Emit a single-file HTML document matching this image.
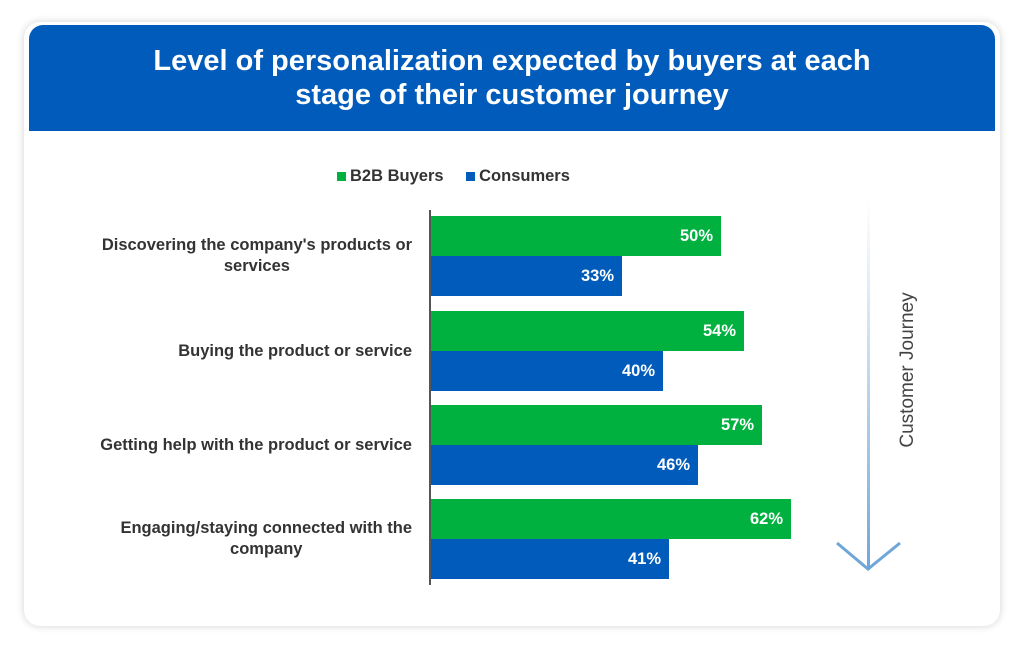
<!DOCTYPE html>
<html><head><meta charset="utf-8"><style>
body{margin:0;width:1024px;height:646px;background:#fff;font-family:"Liberation Sans",sans-serif;position:relative;overflow:hidden}
.card{position:absolute;left:24px;top:22px;width:976px;height:604px;background:#fff;border-radius:16px;box-shadow:0 0 8px rgba(0,0,0,0.18)}
.hdr{position:absolute;left:29px;top:25px;width:966px;height:106px;background:#005bbb;border-radius:14px 14px 0 0;color:#fff;text-align:center;font-weight:bold;font-size:29px;line-height:34px;display:flex;align-items:center;justify-content:center}
.lbl{position:absolute;right:612px;text-align:center;font-weight:bold;font-size:16.5px;color:#333;line-height:21px}
.bar{position:absolute;left:431px;height:40px;color:#fff;font-weight:bold;font-size:16.5px;line-height:40px;text-align:right;box-sizing:border-box;padding-right:8px}
.g{background:#00b140}.b{background:#005bbb}
</style></head><body>
<div class="card"></div>
<div class="hdr">Level of personalization expected by buyers at each<br>stage of their customer journey</div>
<div style="position:absolute;top:166px;left:337px;font-size:16.5px;font-weight:bold;color:#333;line-height:20px">
<span style="display:inline-block;width:9px;height:9px;background:#00b140;margin-right:4px"></span>B2B Buyers
<span style="display:inline-block;width:9px;height:9px;background:#005bbb;margin:0 4px 0 18px"></span>Consumers</div>
<div style="position:absolute;left:429px;top:210px;width:2px;height:375px;background:#555"></div>
<div class="lbl" style="top:235px">Discovering the company's products or<br>services</div>
<div class="lbl" style="top:341px">Buying the product or service</div>
<div class="lbl" style="top:435px">Getting help with the product or service</div>
<div class="lbl" style="top:518px">Engaging/staying connected with the<br>company</div>
<div class="bar g" style="top:216px;width:290px">50%</div>
<div class="bar b" style="top:256px;width:191px">33%</div>
<div class="bar g" style="top:311px;width:313px">54%</div>
<div class="bar b" style="top:351px;width:232px">40%</div>
<div class="bar g" style="top:405px;width:331px">57%</div>
<div class="bar b" style="top:445px;width:267px">46%</div>
<div class="bar g" style="top:499px;width:360px">62%</div>
<div class="bar b" style="top:539px;width:238px">41%</div>
<svg style="position:absolute;left:0;top:0" width="1024" height="646">
<defs><linearGradient id="lg" x1="0" y1="0" x2="0" y2="1"><stop offset="0" stop-color="#7fb0dd" stop-opacity="0"/><stop offset="1" stop-color="#6fa6d8"/></linearGradient></defs>
<rect x="867" y="200" width="3" height="370" fill="url(#lg)"/>
<polyline points="837,543 868,569 900,543" fill="none" stroke="#6fa6d8" stroke-width="3"/>
<text transform="translate(913,370) rotate(-90)" text-anchor="middle" font-family="Liberation Sans" font-size="19" fill="#444">Customer Journey</text>
</svg>
</body></html>
